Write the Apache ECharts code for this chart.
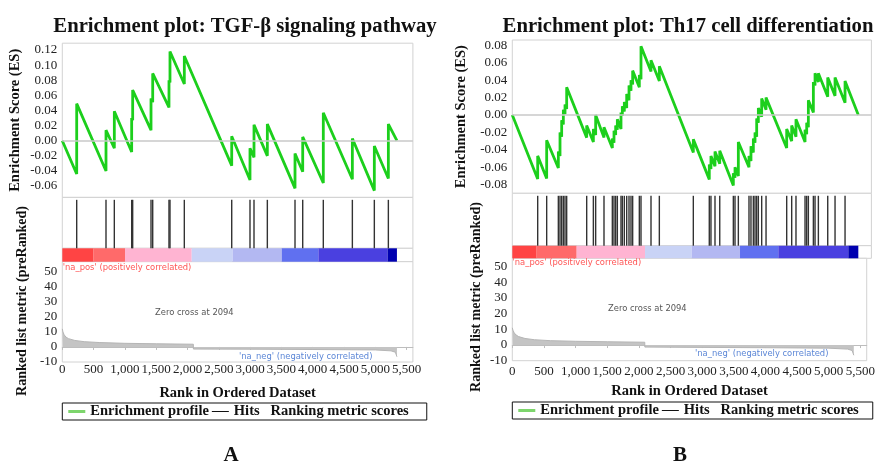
<!DOCTYPE html>
<html>
<head>
<meta charset="utf-8">
<script src="https://cdn.jsdelivr.net/npm/echarts@6/dist/echarts.min.js"></script>
<style>
  html, body { margin: 0; padding: 0; background: #fff; }
  #main { width: 878px; height: 463px; }
</style>
</head>
<body>
<div id="main"></div>
<script>
// ---------- data ----------
// panel A : TGF-beta signaling pathway
const titleA = 'Enrichment plot: TGF-\u03b2 signaling pathway';
const hitsA = [230, 698, 831, 1108, 1124, 1417, 1444, 1704, 1720, 1949, 2706, 2998, 3062, 3275,
  3717, 3840, 4169, 4633, 4984, 5208];
// running enrichment score, [rank, ES] (value before and after each hit)
const esA = [
  [0, 0], [230, -0.044], [230, 0.049], [698, -0.040], [698, 0.014], [831, -0.010], [831, 0.039],
  [1108, -0.015], [1108, 0.030], [1124, 0.027], [1124, 0.067], [1417, 0.014], [1417, 0.056],
  [1444, 0.051], [1444, 0.089], [1704, 0.044], [1704, 0.080], [1720, 0.077], [1720, 0.118],
  [1949, 0.075], [1949, 0.112], [2706, -0.033], [2706, 0.006], [2998, -0.052], [2998, -0.010],
  [3062, -0.022], [3062, 0.021], [3275, -0.020], [3275, 0.022], [3717, -0.063], [3717, -0.017],
  [3840, -0.041], [3840, 0.005], [4169, -0.056], [4169, 0.037], [4633, -0.051], [4633, 0.003],
  [4984, -0.066], [4984, -0.007], [5208, -0.050], [5208, 0.022], [5345, 0.000]
];
const metricA = [[0, 12], [10, 10], [30, 8], [60, 6.5], [100, 5.5], [200, 4.3], [350, 3.5], [600, 2.9],
  [1000, 2.4], [1500, 2.1], [2093, 1.8], [2094, -1.4], [3000, -1.5], [4000, -1.7], [5000, -2.0],
  [5250, -2.6], [5320, -3.5], [5345, -6.5]];
const barBreaksA = [0, 500, 1002, 2067, 2720, 3505, 4090, 5195, 5345];

// panel B : Th17 cell differentiation
const titleB = 'Enrichment plot: Th17 cell differentiation';
const hitsB = [396, 536, 718, 744, 770, 796, 822, 848, 1160, 1264, 1300, 1430, 1560, 1586, 1612, 1638,
  1695, 1716, 1747, 1784, 1820, 1851, 1877, 1981, 2007, 2163, 2293, 2823, 3072, 3098, 3161, 3235,
  3447, 3473, 3525, 3691, 3722, 3759, 3785, 3811, 3837, 3889, 3957, 4279, 4357, 4424, 4565, 4591,
  4617, 4695, 4721, 4773, 4919, 5033, 5189];
const esB = [
  [0, 0], [396, -0.0736], [396, -0.047], [536, -0.073], [536, -0.029],
  [718, -0.061], [718, -0.042], [744, -0.047], [744, -0.020], [770, -0.025], [770, -0.006],
  [796, -0.011], [796, 0.006], [822, 0.001], [822, 0.012], [848, 0.007], [848, 0.032],
  [1160, -0.026], [1160, -0.012], [1264, -0.031], [1264, -0.016], [1300, -0.023], [1300, 0.000],
  [1430, -0.026], [1430, -0.014], [1560, -0.038], [1560, -0.027], [1586, -0.032], [1586, -0.018],
  [1612, -0.023], [1612, -0.012], [1638, -0.017], [1638, -0.005], [1695, -0.016], [1695, 0.003],
  [1716, -0.001], [1716, 0.010], [1747, 0.004], [1747, 0.015], [1784, 0.008], [1784, 0.024],
  [1820, 0.017], [1820, 0.034], [1851, 0.028], [1851, 0.040], [1877, 0.035], [1877, 0.051],
  [1981, 0.032], [1981, 0.046], [2007, 0.041], [2007, 0.079], [2163, 0.050], [2163, 0.063],
  [2293, 0.039], [2293, 0.056], [2823, -0.043], [2823, -0.028], [3072, -0.074], [3072, -0.057],
  [3098, -0.062], [3098, -0.047], [3161, -0.059], [3161, -0.042], [3235, -0.056], [3235, -0.041],
  [3447, -0.081], [3447, -0.067], [3473, -0.072], [3473, -0.060], [3525, -0.070], [3525, -0.031],
  [3691, -0.060], [3691, -0.047], [3722, -0.053], [3722, -0.036], [3759, -0.043], [3759, -0.027],
  [3785, -0.032], [3785, -0.020], [3811, -0.025], [3811, -0.004], [3837, -0.009], [3837, 0.008],
  [3889, -0.002], [3889, 0.019], [3957, 0.006], [3957, 0.020], [4279, -0.038], [4279, -0.016],
  [4357, -0.030], [4357, -0.012], [4424, -0.025], [4424, -0.005], [4565, -0.031], [4565, -0.017],
  [4591, -0.022], [4591, -0.009], [4617, -0.014], [4617, 0.017], [4695, 0.003], [4695, 0.038],
  [4721, 0.034], [4721, 0.048], [4773, 0.038], [4773, 0.048], [4919, 0.021], [4919, 0.043],
  [5033, 0.022], [5033, 0.043], [5189, 0.014], [5189, 0.039], [5396, 0.000]
];
const metricB = [[0, 11], [10, 9.5], [30, 7.8], [60, 6.4], [100, 5.4], [200, 4.2], [350, 3.4], [600, 2.8],
  [1000, 2.4], [1500, 2.1], [2093, 1.8], [2094, -1.3], [3000, -1.5], [4000, -1.7], [5000, -2.0],
  [5300, -2.6], [5370, -3.5], [5396, -6.5]];
const barBreaksB = [0, 380, 1004, 2070, 2798, 3551, 4148, 5240, 5396];

// colours of the ranked-list colour band, from positive to negative
const bandColors = ['#ff4444', '#ff6a6a', '#ffb4d2', '#c9d3f6', '#b3b8f2', '#6070f0', '#4a40e0', '#0000b0'];

// ---------- layout ----------
const serif = 'Liberation Serif';
const panels = [
  { key: 'A', title: titleA, hits: hitsA, es: esA, metric: metricA, breaks: barBreaksA,
    left: 62.3, width: 350.6, esTop: 43.2, esH: 154.2, hitTop: 197.4, hitH: 50.9,
    barTop: 248.3, barH: 13.4, rankTop: 261.7, rankH: 100.3,
    esMin: -0.075, esMax: 0.129, rankMax: 56.6, nameGapES: 40, labelMargin: 1, nameGapX: 24,
    titleX: 240, letterX: 226, legTop: 403, legPadR: 18 },
  { key: 'B', title: titleB, hits: hitsB, es: esB, metric: metricB, breaks: barBreaksB,
    left: 512.3, width: 359.1, esTop: 40, esH: 153.3, hitTop: 193.3, hitH: 52.4,
    barTop: 245.7, barH: 12.6, rankTop: 258.3, rankH: 102.4,
    esMin: -0.09, esMax: 0.0862, rankMax: 55.4, nameGapES: 44, labelMargin: 4, nameGapX: 23,
    titleX: 683, letterX: 675, legTop: 402, legPadR: 14 }
];

const fmtRank = v => (v % 500 === 0) ? String(v).replace(/\B(?=(\d{3})+(?!\d))/g, ',') : '';
const fmtES = v => { const k = Math.round(v * 1000); return (k % 20 === 0) ? (k / 1000).toFixed(2) : ''; };
const fmtMetric = v => (Math.abs(v % 10) < 1e-9) ? String(v) : '';

const grid = [], xAxis = [], yAxis = [], series = [], title = [], legend = [], graphic = [];

panels.forEach((p, pi) => {
  const g0 = pi * 4;
  const border = { show: true, borderColor: '#d2d2d2', borderWidth: 1, backgroundColor: '#fff' };
  grid.push(
    Object.assign({ left: p.left, width: p.width, top: p.esTop, height: p.esH }, border),
    Object.assign({ left: p.left, width: p.width, top: p.hitTop, height: p.hitH }, border),
    Object.assign({ left: p.left, width: p.width, top: p.barTop, height: p.barH }, border),
    Object.assign({ left: p.left, width: p.width, top: p.rankTop, height: p.rankH }, border)
  );
  for (let i = 0; i < 4; i++) {
    const isBottom = i === 3;
    xAxis.push({
      type: 'value', gridIndex: g0 + i, min: 0, max: 5600, interval: 500,
      axisLine: { show: isBottom, lineStyle: { color: '#bdbdbd' } },
      axisTick: { show: isBottom, length: 3, lineStyle: { color: '#bdbdbd' } },
      axisLabel: { show: isBottom, formatter: fmtRank, fontFamily: serif, fontSize: 13, color: '#222',
        margin: p.labelMargin, showMaxLabel: false },
      splitLine: { show: false },
      name: isBottom ? 'Rank in Ordered Dataset' : '',
      nameLocation: 'middle', nameGap: p.nameGapX,
      nameTextStyle: { fontFamily: serif, fontWeight: 'bold', fontSize: 14.5, color: '#111' }
    });
  }
  yAxis.push(
    { type: 'value', gridIndex: g0, min: p.esMin, max: p.esMax, interval: 0.005,
      axisLine: { show: false }, axisTick: { show: false }, splitLine: { show: false },
      axisLabel: { formatter: fmtES, fontFamily: serif, fontSize: 13, color: '#222', margin: 5 },
      name: 'Enrichment Score (ES)', nameLocation: 'middle', nameGap: p.nameGapES, nameRotate: 90,
      nameTextStyle: { fontFamily: serif, fontWeight: 'bold', fontSize: 14.5, color: '#111' } },
    { type: 'value', gridIndex: g0 + 1, min: 0, max: 1.05, show: false },
    { type: 'value', gridIndex: g0 + 2, min: 0, max: 1, show: false },
    { type: 'value', gridIndex: g0 + 3, min: -10, max: p.rankMax, interval: 10,
      axisLine: { show: false }, axisTick: { show: false }, splitLine: { show: false },
      axisLabel: { formatter: fmtMetric, fontFamily: serif, fontSize: 13, color: '#222', margin: 5,
        showMaxLabel: false } }
  );

  series.push(
    { name: 'Enrichment profile', type: 'line', xAxisIndex: g0, yAxisIndex: g0, data: p.es,
      symbol: 'none', itemStyle: { color: '#7dd56c' }, lineStyle: { color: '#1ccf1c', width: 2.8 },
      markLine: { silent: true, symbol: 'none', label: { show: false },
        lineStyle: { color: '#c8c8c8', width: 1.5, type: 'solid' }, data: [{ yAxis: 0 }] } },
    { name: 'Hits', type: 'bar', xAxisIndex: g0 + 1, yAxisIndex: g0 + 1,
      data: p.hits.map(r => [r, 1]), barWidth: 1.4, itemStyle: { color: '#333' } },
    { name: 'band', type: 'custom', xAxisIndex: g0 + 2, yAxisIndex: g0 + 2,
      data: p.breaks.slice(0, -1).map((b, i) => [b, p.breaks[i + 1]]),
      encode: { x: [0, 1] },
      renderItem: (params, api) => {
        const a = api.coord([api.value(0), 1]);
        const b = api.coord([api.value(1), 0]);
        return { type: 'rect', shape: { x: a[0], y: a[1], width: b[0] - a[0], height: b[1] - a[1] },
          style: { fill: bandColors[params.dataIndex] } };
      } },
    { name: 'Ranking metric scores', type: 'line', xAxisIndex: g0 + 3, yAxisIndex: g0 + 3, data: p.metric,
      symbol: 'none', itemStyle: { color: '#bdbdbd' }, lineStyle: { color: '#b5b5b5', width: 1 },
      areaStyle: { color: '#c4c4c4', opacity: 1 } }
  );

  title.push(
    { text: p.title, left: p.titleX, top: 11, textAlign: 'center',
      textStyle: { fontFamily: serif, fontWeight: 'bold', fontSize: 20.7, color: '#111' } },
    { text: p.key, left: p.letterX, top: 440, textAlign: 'center',
      textStyle: { fontFamily: serif, fontWeight: 'bold', fontSize: 21, color: '#111' } }
  );

  // the ranking-metric entry has no swatch in the original, so it is written after "Hits"
  legend.push({
    left: p.left, top: p.legTop, width: 380, orient: 'horizontal', itemWidth: 17, itemHeight: 10, itemGap: 3,
    padding: [1, p.legPadR, 1, 6], borderColor: '#111', borderWidth: 1, selectedMode: false,
    formatter: name => name === 'Hits' ? 'Hits   Ranking metric scores' : name,
    textStyle: { fontFamily: serif, fontWeight: 'bold', fontSize: 14.5, color: '#111' },
    data: [
      { name: 'Enrichment profile', icon: 'path://M0,0M0,3.5H17V6.5H0ZM17,10', itemStyle: { color: '#7dd56c' } },
      { name: 'Hits', icon: 'path://M0,0M0,4.5H17V5.5H0ZM17,10', itemStyle: { color: '#111' } }
    ]
  });

  const small = '8.4px "DejaVu Sans"';
  const annot = pi === 0
    ? [[62.7, 267.7, "'na_pos' (positively correlated)", '#ff5555'], [155, 313, 'Zero cross at 2094', '#555'],
       [239, 357, "'na_neg' (negatively correlated)", '#5b86d6']]
    : [[512.5, 262.7, "'na_pos' (positively correlated)", '#ff5555'], [608, 309, 'Zero cross at 2094', '#555'],
       [695, 354, "'na_neg' (negatively correlated)", '#5b86d6']];
  annot.forEach(a => graphic.push({ type: 'text', x: a[0], y: a[1], silent: true, z: 10,
    style: { text: a[2], font: small, fill: a[3], textAlign: 'left', textVerticalAlign: 'middle' } }));
  graphic.push({ type: 'text', x: pi === 0 ? 22 : 476, y: pi === 0 ? 301 : 297, rotation: Math.PI / 2,
    silent: true,
    style: { text: 'Ranked list metric (preRanked)', font: 'bold 14px "Liberation Serif"', fill: '#111',
      textAlign: 'center', textVerticalAlign: 'middle' } });
});

const chart = echarts.init(document.getElementById('main'), null, { renderer: 'canvas' });
chart.setOption({
  animation: false,
  backgroundColor: '#fff',
  title, legend, grid, xAxis, yAxis, series, graphic
});
</script>
</body>
</html>
